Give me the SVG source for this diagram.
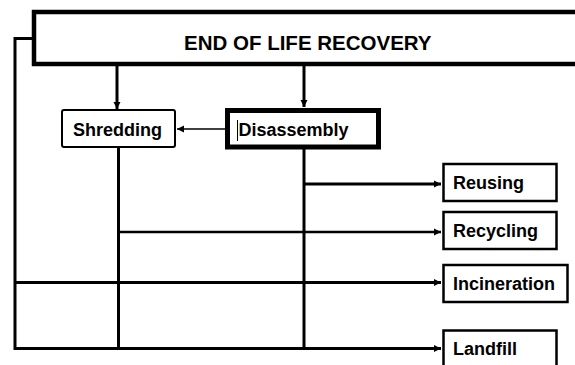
<svg xmlns="http://www.w3.org/2000/svg" width="575" height="365" viewBox="0 0 575 365">
<style>
.box{fill:#fff;stroke:#000;stroke-width:2.5}
.lbl{font-family:"Liberation Sans",Arial,sans-serif;font-weight:bold;font-size:18px;fill:#000}
.ln{fill:none;stroke:#000;stroke-width:3}
</style>
<defs>
<marker id="ah" markerUnits="userSpaceOnUse" markerWidth="8" markerHeight="8" refX="7" refY="4" orient="auto">
<path d="M0,0.5 L7,4 L0,7.5 z" fill="#000"/>
</marker>
</defs>
<rect width="575" height="365" fill="#fff"/>
<g id="connectors">
<polyline class="ln" points="34,38.5 15,38.5 15,348.5 441,348.5" marker-end="url(#ah)"/>
<line class="ln" x1="15" y1="282.5" x2="441" y2="282.5" marker-end="url(#ah)"/>
<line class="ln" x1="117" y1="66" x2="117" y2="109" marker-end="url(#ah)"/>
<line class="ln" x1="304" y1="66" x2="304" y2="107" marker-end="url(#ah)"/>
<line class="ln" x1="118.5" y1="147" x2="118.5" y2="348.5"/>
<line class="ln" x1="304" y1="149" x2="304" y2="348.5"/>
<line class="ln" x1="304" y1="184" x2="441" y2="184" marker-end="url(#ah)"/>
<line class="ln" style="stroke-width:2.5" x1="118.5" y1="232" x2="441" y2="232" marker-end="url(#ah)"/>
<line class="ln" style="stroke-width:1.5" x1="225" y1="129" x2="177" y2="129" marker-end="url(#ah)"/>
</g>
<g id="end-of-life-recovery">
<rect x="34" y="12" width="560" height="52" fill="#fff" stroke="#000" stroke-width="4.5"/>
<text class="lbl" x="184" y="49.5" style="font-size:20.5px">END OF LIFE RECOVERY</text>
</g>
<g id="shredding">
<rect class="box" x="62" y="110" width="113" height="37" rx="2" style="stroke-width:2"/>
<text class="lbl" x="73" y="136">Shredding</text>
</g>
<g id="disassembly">
<rect class="box" x="227.5" y="110.5" width="151" height="36.5" style="stroke-width:5"/>
<line x1="237.5" y1="120" x2="237.5" y2="141" stroke="#000" stroke-width="1"/>
<text class="lbl" x="238.5" y="136">Disassembly</text>
</g>
<g id="reusing">
<rect class="box" x="443.5" y="164" width="113" height="37"/>
<text class="lbl" x="453" y="188.5">Reusing</text>
</g>
<g id="recycling">
<rect class="box" x="443.5" y="212" width="113" height="37"/>
<text class="lbl" x="453" y="237">Recycling</text>
</g>
<g id="incineration">
<rect class="box" x="443.5" y="265" width="124" height="37"/>
<text class="lbl" x="453" y="290">Incineration</text>
</g>
<g id="landfill">
<rect class="box" x="443.5" y="330.5" width="113" height="45"/>
<text class="lbl" x="453" y="355">Landfill</text>
</g>
</svg>
